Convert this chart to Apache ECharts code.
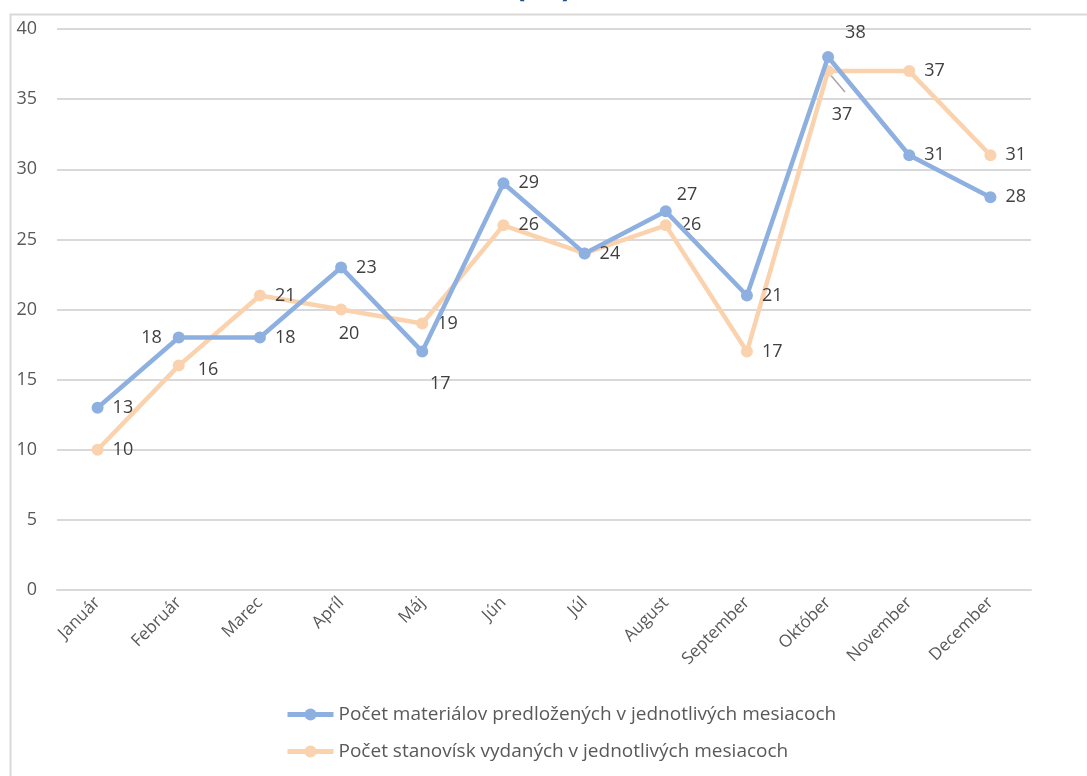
<!DOCTYPE html>
<html>
<head>
<meta charset="utf-8">
<script src="https://cdn.jsdelivr.net/npm/echarts@6/dist/echarts.min.js"></script>
<style>
  html, body { margin: 0; padding: 0; background: #fff; }
  #chart { width: 1087px; height: 776px; }
</style>
</head>
<body>
<div id="chart"></div>
<script>
const months = ['Január', 'Február', 'Marec', 'Apríl', 'Máj', 'Jún', 'Júl', 'August', 'September', 'Október', 'November', 'December']
const materialy = [13, 18, 18, 23, 17, 29, 24, 27, 21, 38, 31, 28]
const stanoviska = [10, 16, 21, 20, 19, 26, 24, 26, 17, 37, 37, 31]
const nameA = 'Počet materiálov predložených v jednotlivých mesiacoch'
const nameB = 'Počet stanovísk vydaných v jednotlivých mesiacoch'

const font = 'Open Sans'
// kde sa zobrazi popisok pri jednotlivych bodoch
const posA = {1: ['left', [-2, 0]], 4: ['bottom', [18, 8]], 7: ['right', [-4, -16]], 9: ['right', [2, -24]]}
const posB = {1: ['right', [4, 4]], 3: ['bottom', [8, 0]], 6: ['hidden'], 9: ['bottom', [14, 20]]}

function items(values, pos) {
  return values.map((v, i) => {
    const p = pos[i]
    if (!p) return v
    if (p[0] === 'hidden') return {value: v, label: {show: false}}
    return {value: v, label: {position: p[0], offset: p[1]}}
  })
}

const chart = echarts.init(document.getElementById('chart'))
const lineSeries = (name, values, pos, color) => ({
  name,
  type: 'line',
  data: items(values, pos),
  symbol: 'circle',
  symbolSize: 12,
  lineStyle: {width: 4.5, color},
  itemStyle: {color},
  label: {
    show: true,
    position: 'right',
    distance: 9,
    fontFamily: font,
    fontSize: 18,
    color: '#404040'
  }
})

const seriesB = lineSeries(nameB, stanoviska, posB, '#FBD2AE')
seriesB.z = 1
const seriesA = lineSeries(nameA, materialy, posA, '#8EB0E0')
seriesA.z = 2

chart.setOption({
  animation: false,
  title: {
    text: '(ks)',
    left: 'center',
    top: -34,
    textStyle: {color: '#1F4E79', fontSize: 32, fontWeight: 'bold', fontFamily: font}
  },
  graphic: [{
    type: 'rect',
    shape: {x: 10.5, y: 14.5, width: 1100, height: 800},
    style: {fill: 'none', stroke: '#D9D9D9', lineWidth: 2},
    silent: true,
    z: -1
  }, {
    // vodiaca ciara k popisku 37 v oktobri
    type: 'line',
    shape: {x1: 828, y1: 72, x2: 845, y2: 92},
    style: {stroke: '#A6A6A6', lineWidth: 1.5}
  }],
  grid: {left: 57, right: 56, top: 29, bottom: 186},
  legend: {
    orient: 'vertical',
    left: 280,
    top: 700,
    itemGap: 18,
    itemWidth: 46,
    itemHeight: 15,
    lineStyle: {width: 5},
    textStyle: {fontFamily: font, fontSize: 19, color: '#595959'},
    data: [nameA, nameB]
  },
  xAxis: {
    type: 'category',
    data: months,
    axisTick: {show: false},
    axisLine: {lineStyle: {color: '#D9D9D9', width: 2}},
    axisLabel: {rotate: 45, margin: 10, fontFamily: font, fontSize: 17, color: '#595959', interval: 0}
  },
  yAxis: {
    type: 'value',
    min: 0,
    max: 40,
    interval: 5,
    axisLabel: {margin: 20, fontFamily: font, fontSize: 18, color: '#595959'},
    splitLine: {lineStyle: {color: '#D9D9D9', width: 2}}
  },
  series: [seriesA, seriesB]
})
</script>
</body>
</html>
